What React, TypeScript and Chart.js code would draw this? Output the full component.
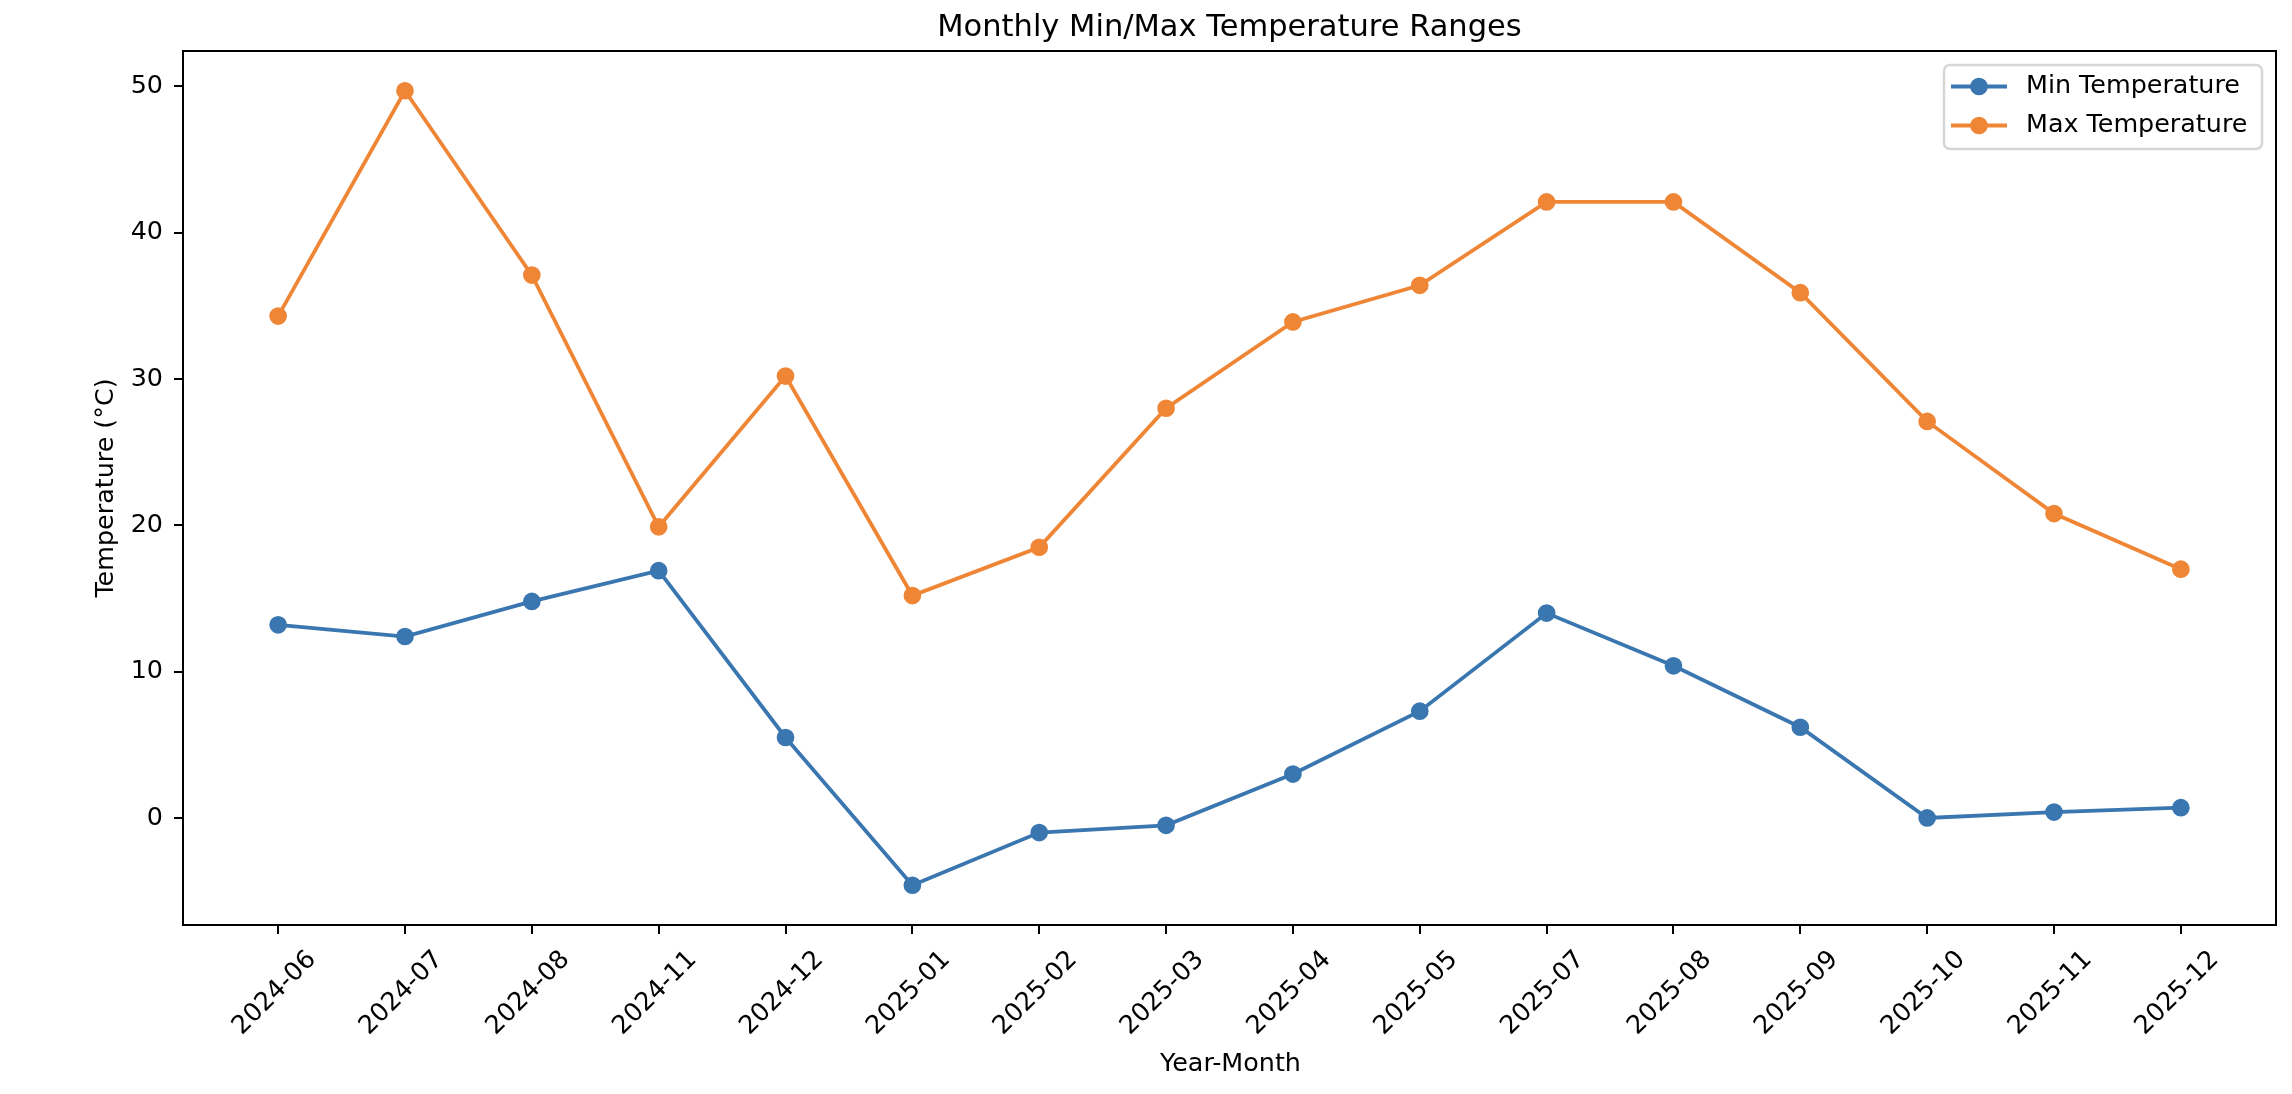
import React, { useEffect, useRef } from "react";
import { Chart, registerables } from "chart.js";

Chart.register(...registerables);

// Monthly temperature extremes (°C)
const months = [
  "2024-06", "2024-07", "2024-08", "2024-11", "2024-12", "2025-01", "2025-02", "2025-03",
  "2025-04", "2025-05", "2025-07", "2025-08", "2025-09", "2025-10", "2025-11", "2025-12",
];
const minTemps = [13.2, 12.4, 14.8, 16.9, 5.5, -4.6, -1.0, -0.5, 3.0, 7.3, 14.0, 10.4, 6.2, 0.0, 0.4, 0.7];
const maxTemps = [34.3, 49.7, 37.1, 19.9, 30.2, 15.2, 18.5, 28.0, 33.9, 36.4, 42.1, 42.1, 35.9, 27.1, 20.8, 17.0];
const yTicks = [0, 10, 20, 30, 40, 50];

const seriesNames = ["Min Temperature", "Max Temperature"];
const seriesColors = ["#3a76af", "#ef8636"];

const FONT = "'DejaVu Sans', 'Liberation Sans', sans-serif";
const W = 2292;
const H = 1094;

// axis limits with a 5% margin around the data
const allVals = [...minTemps, ...maxTemps];
const dMin = Math.min(...allVals);
const dMax = Math.max(...allVals);
const yPad = (dMax - dMin) * 0.05;
const xPad = (months.length - 1) * 0.05;

const decorPlugin = {
  id: "decor",
  afterDraw(chart: any) {
    const { ctx, chartArea } = chart;
    const { left, right, top, bottom } = chartArea;
    ctx.save();

    // frame around the plot
    ctx.strokeStyle = "#000";
    ctx.lineWidth = 2;
    ctx.strokeRect(left, top, right - left, bottom - top);

    ctx.fillStyle = "#000";
    // title
    ctx.font = `30.5px ${FONT}`;
    ctx.textAlign = "center";
    ctx.textBaseline = "alphabetic";
    ctx.fillText("Monthly Min/Max Temperature Ranges", (left + right) / 2, 36);

    // axis titles
    ctx.font = `25.4px ${FONT}`;
    ctx.fillText("Year-Month", (left + right) / 2 + 1, 1070.5);
    ctx.save();
    ctx.translate(113, (top + bottom) / 2);
    ctx.rotate(-Math.PI / 2);
    ctx.fillText("Temperature (°C)", 0, 0);
    ctx.restore();

    // legend
    const lx = 1944, ly = 65, lw = 318, lh = 84, r = 6;
    ctx.beginPath();
    ctx.moveTo(lx + r, ly);
    ctx.arcTo(lx + lw, ly, lx + lw, ly + lh, r);
    ctx.arcTo(lx + lw, ly + lh, lx, ly + lh, r);
    ctx.arcTo(lx, ly + lh, lx, ly, r);
    ctx.arcTo(lx, ly, lx + lw, ly, r);
    ctx.closePath();
    ctx.fillStyle = "rgba(255,255,255,0.8)";
    ctx.fill();
    ctx.strokeStyle = "rgba(204,204,204,0.8)";
    ctx.lineWidth = 2.5;
    ctx.stroke();

    const rows = [86.5, 125.5];
    seriesNames.forEach((name, i) => {
      const y = rows[i];
      ctx.strokeStyle = seriesColors[i];
      ctx.lineWidth = 3.8;
      ctx.beginPath();
      ctx.moveTo(1951, y);
      ctx.lineTo(2007, y);
      ctx.stroke();
      ctx.beginPath();
      ctx.arc(1979, y, 7.6, 0, Math.PI * 2);
      ctx.fillStyle = seriesColors[i];
      ctx.fill();
      ctx.lineWidth = 2.5;
      ctx.stroke();
      ctx.fillStyle = "#000";
      ctx.font = `25.4px ${FONT}`;
      ctx.textAlign = "left";
      ctx.textBaseline = "middle";
      ctx.fillText(name, 2026, y);
    });

    ctx.restore();
  },
};

export default function App() {
  const canvasRef = useRef<HTMLCanvasElement | null>(null);

  useEffect(() => {
    const canvas = canvasRef.current;
    if (!canvas) return;

    const series = [minTemps, maxTemps];
    const chart = new Chart(canvas, {
      type: "line",
      data: {
        datasets: series.map((vals, i) => ({
          label: seriesNames[i],
          data: vals.map((v, j) => ({ x: j, y: v })),
          borderColor: seriesColors[i],
          backgroundColor: seriesColors[i],
          pointBackgroundColor: seriesColors[i],
          pointBorderColor: seriesColors[i],
          borderWidth: 3.8,
          pointRadius: 7.6,
          pointBorderWidth: 2.5,
          pointHoverRadius: 7.6,
          tension: 0,
          fill: false,
        })),
      },
      options: {
        responsive: false,
        animation: false,
        events: [],
        layout: { padding: { top: 51, right: 16, left: 0, bottom: 0 } },
        plugins: {
          legend: { display: false },
          title: { display: false },
          tooltip: { enabled: false },
        },
        scales: {
          x: {
            type: "linear",
            min: -xPad,
            max: months.length - 1 + xPad,
            afterBuildTicks: (s: any) => {
              s.ticks = months.map((_, i) => ({ value: i }));
            },
            afterFit: (s: any) => {
              s.height = H - 925;
            },
            grid: { drawOnChartArea: false, drawTicks: true, tickLength: 9, color: "#000", lineWidth: 2 },
            border: { display: false },
            ticks: {
              autoSkip: false,
              minRotation: 45,
              maxRotation: 45,
              padding: 11,
              labelOffset: 34,
              color: "#000",
              font: { family: FONT, size: 25.4 },
              callback: (_v: any, idx: number) => months[idx],
            },
          },
          y: {
            type: "linear",
            min: dMin - yPad,
            max: dMax + yPad,
            afterBuildTicks: (s: any) => {
              s.ticks = yTicks.map((v) => ({ value: v }));
            },
            afterFit: (s: any) => {
              s.width = 183;
            },
            grid: { drawOnChartArea: false, drawTicks: true, tickLength: 9, color: "#000", lineWidth: 2 },
            border: { display: false },
            ticks: {
              padding: 11,
              color: "#000",
              font: { family: FONT, size: 25.4 },
              callback: (v: any) => String(v),
            },
          },
        },
      },
      plugins: [decorPlugin],
    } as any);

    return () => chart.destroy();
  }, []);

  return (
    <div style={{ position: "fixed", left: 0, top: 0, width: W, height: H, background: "#fff" }}>
      <canvas ref={canvasRef} width={W} height={H} style={{ display: "block", width: W, height: H }} />
    </div>
  );
}
